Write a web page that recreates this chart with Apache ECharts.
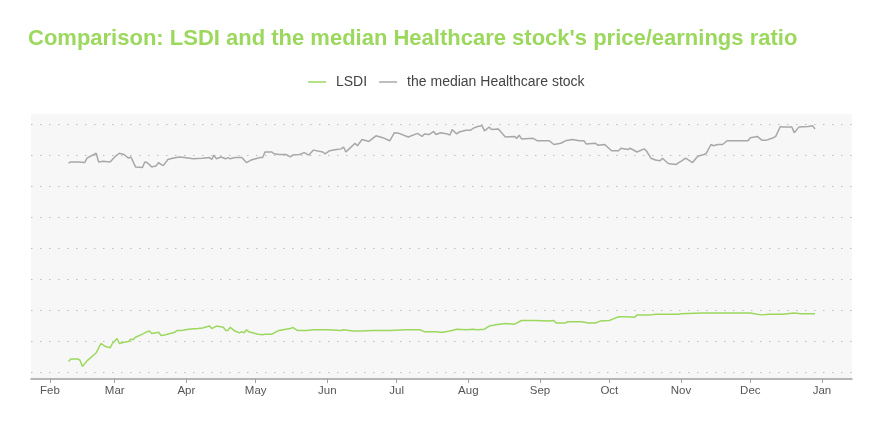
<!DOCTYPE html>
<html>
<head>
<meta charset="utf-8">
<script src="https://cdn.jsdelivr.net/npm/echarts@6/dist/echarts.min.js"></script>
<style>
html,body{margin:0;padding:0;background:#fff;}
#chart{width:880px;height:440px;}
</style>
</head>
<body>
<div id="chart"></div>
<script>
const titleText = "Comparison: LSDI and the median Healthcare stock's price/earnings ratio";
const seriesNames = ['LSDI', 'the median Healthcare stock'];
const monthLabels = ['Jan','Feb','Mar','Apr','May','Jun','Jul','Aug','Sep','Oct','Nov','Dec'];

const lsdiDates = ['2021-02-09','2021-02-10','2021-02-13','2021-02-14','2021-02-15','2021-02-17','2021-02-21','2021-02-23','2021-02-25','2021-02-27','2021-02-28','2021-03-02','2021-03-03','2021-03-05','2021-03-07','2021-03-08','2021-03-09','2021-03-10','2021-03-13','2021-03-15','2021-03-16','2021-03-17','2021-03-20','2021-03-21','2021-03-23','2021-03-25','2021-03-27','2021-03-28','2021-03-30','2021-04-02','2021-04-06','2021-04-08','2021-04-11','2021-04-12','2021-04-14','2021-04-17','2021-04-18','2021-04-19','2021-04-20','2021-04-22','2021-04-24','2021-04-25','2021-04-26','2021-04-27','2021-04-28','2021-05-02','2021-05-04','2021-05-05','2021-05-08','2021-05-11','2021-05-16','2021-05-17','2021-05-19','2021-05-23','2021-05-26','2021-05-30','2021-06-01','2021-06-07','2021-06-08','2021-06-12','2021-06-15','2021-06-21','2021-06-28','2021-07-05','2021-07-11','2021-07-13','2021-07-18','2021-07-20','2021-07-21','2021-07-24','2021-07-27','2021-07-31','2021-08-03','2021-08-05','2021-08-08','2021-08-10','2021-08-13','2021-08-17','2021-08-21','2021-08-24','2021-08-30','2021-09-05','2021-09-07','2021-09-08','2021-09-12','2021-09-13','2021-09-19','2021-09-22','2021-09-25','2021-09-27','2021-10-01','2021-10-03','2021-10-05','2021-10-08','2021-10-12','2021-10-13','2021-10-19','2021-10-21','2021-10-31','2021-11-01','2021-11-10','2021-11-24','2021-12-01','2021-12-04','2021-12-06','2021-12-09','2021-12-13','2021-12-15','2021-12-20','2021-12-23','2021-12-26','2021-12-29'];
const lsdiValues = [1.8,2.2,2.2,2.0,1.0,1.9,3.2,4.7,4.2,4.0,4.7,5.5,4.7,4.9,5.0,5.4,5.3,5.7,6.2,6.6,6.7,6.3,6.5,6.0,6.1,6.3,6.5,6.8,6.8,7.0,7.1,7.2,7.5,7.1,7.5,7.3,6.8,6.8,7.3,6.7,6.4,6.6,6.4,6.9,6.6,6.2,6.1,6.2,6.2,6.8,7.1,7.3,6.8,6.8,6.9,6.9,6.9,6.8,6.9,6.7,6.7,6.8,6.8,6.9,6.9,6.6,6.6,6.5,6.5,6.7,7.0,6.9,7.0,6.9,7.0,7.5,7.7,7.9,7.8,8.4,8.4,8.3,8.4,8.0,8.0,8.2,8.2,8.0,8.0,8.3,8.4,8.7,9.0,9.0,8.9,9.3,9.3,9.4,9.4,9.5,9.6,9.6,9.6,9.4,9.3,9.4,9.4,9.4,9.6,9.5,9.5,9.5];

const medianDates = ['2021-02-09','2021-02-10','2021-02-13','2021-02-16','2021-02-17','2021-02-21','2021-02-22','2021-02-24','2021-02-27','2021-03-01','2021-03-03','2021-03-05','2021-03-07','2021-03-08','2021-03-10','2021-03-13','2021-03-14','2021-03-15','2021-03-17','2021-03-19','2021-03-20','2021-03-21','2021-03-22','2021-03-24','2021-03-26','2021-03-29','2021-03-31','2021-04-04','2021-04-08','2021-04-11','2021-04-12','2021-04-13','2021-04-14','2021-04-16','2021-04-18','2021-04-19','2021-04-20','2021-04-22','2021-04-25','2021-04-27','2021-04-29','2021-05-03','2021-05-04','2021-05-05','2021-05-08','2021-05-09','2021-05-11','2021-05-14','2021-05-16','2021-05-17','2021-05-20','2021-05-22','2021-05-24','2021-05-26','2021-05-30','2021-05-31','2021-06-02','2021-06-05','2021-06-07','2021-06-08','2021-06-09','2021-06-11','2021-06-13','2021-06-14','2021-06-16','2021-06-19','2021-06-22','2021-06-25','2021-06-28','2021-06-30','2021-07-02','2021-07-06','2021-07-10','2021-07-12','2021-07-13','2021-07-15','2021-07-17','2021-07-18','2021-07-20','2021-07-23','2021-07-24','2021-07-25','2021-07-27','2021-07-28','2021-07-31','2021-08-02','2021-08-03','2021-08-05','2021-08-07','2021-08-08','2021-08-10','2021-08-11','2021-08-14','2021-08-17','2021-08-21','2021-08-22','2021-08-23','2021-08-24','2021-08-29','2021-08-31','2021-09-05','2021-09-07','2021-09-10','2021-09-12','2021-09-15','2021-09-18','2021-09-20','2021-09-21','2021-09-25','2021-09-26','2021-09-29','2021-10-02','2021-10-05','2021-10-06','2021-10-09','2021-10-10','2021-10-13','2021-10-16','2021-10-17','2021-10-19','2021-10-21','2021-10-23','2021-10-24','2021-10-26','2021-10-27','2021-10-30','2021-10-31','2021-11-01','2021-11-03','2021-11-06','2021-11-08','2021-11-09','2021-11-11','2021-11-12','2021-11-14','2021-11-15','2021-11-17','2021-11-19','2021-11-21','2021-11-24','2021-11-30','2021-12-01','2021-12-04','2021-12-06','2021-12-08','2021-12-11','2021-12-12','2021-12-14','2021-12-15','2021-12-19','2021-12-20','2021-12-22','2021-12-26','2021-12-28','2021-12-29'];
const medianValues = [33.7,33.9,33.9,33.8,34.5,35.3,33.9,34.0,33.9,34.7,35.3,35.1,34.5,34.7,33.1,33.0,33.9,33.8,33.1,33.3,33.8,33.5,33.3,34.3,34.5,34.7,34.6,34.4,34.5,34.6,34.3,35.0,34.4,34.7,34.4,34.6,34.4,34.6,34.6,33.8,34.2,34.6,34.6,35.5,35.5,35.2,35.1,35.1,34.7,35.0,35.1,35.4,35.0,35.8,35.5,35.2,35.7,35.9,36.0,36.3,35.5,36.2,36.9,36.5,37.5,37.2,38.1,37.8,37.3,38.6,38.5,37.9,38.5,38.0,38.4,38.3,38.8,38.3,38.6,38.4,38.2,39.1,38.4,38.7,39.0,39.0,39.3,39.6,39.7,38.9,39.5,39.1,39.2,37.9,38.0,37.7,38.2,37.6,37.7,37.3,37.3,36.7,36.9,37.3,37.5,37.3,37.3,36.8,36.9,36.6,36.7,35.7,35.7,36.1,35.9,36.1,35.5,36.0,35.7,34.5,34.2,34.1,34.5,33.8,33.6,33.5,33.8,34.0,34.5,33.8,34.7,34.9,35.1,35.3,36.7,36.5,36.7,36.7,37.3,37.3,37.3,37.8,38.0,37.4,37.4,37.8,38.0,39.6,39.5,39.5,38.6,39.5,39.6,39.7,39.2];

const lsdiData = lsdiDates.map((d, i) => [d, lsdiValues[i]]);
const medianData = medianDates.map((d, i) => [d, medianValues[i]]);

const green = '#9cd85e';
const gray = '#a8a8a8';
const font = "'Liberation Sans', Arial, sans-serif";

const chart = echarts.init(document.getElementById('chart'), null, {renderer: 'canvas'});
chart.setOption({
  animation: false,
  backgroundColor: '#ffffff',
  title: {
    text: titleText,
    left: 23,
    top: 23,
    textStyle: {color: green, fontSize: 22, fontWeight: 'bold', fontFamily: font}
  },
  legend: {
    top: 70,
    left: 303,
    icon: 'rect',
    itemWidth: 18,
    itemHeight: 1.5,
    itemGap: 12,
    textStyle: {color: '#444', fontSize: 14, fontFamily: font, padding: [0, 0, 0, 5]},
    data: seriesNames
  },
  grid: [
    {left: 31, right: 28, top: 124, bottom: 67.3, containLabel: false},
    {left: 31, right: 28, top: 114, bottom: 61, show: true, backgroundColor: '#f7f7f7', borderWidth: 0, containLabel: false}
  ],
  xAxis: [
    {
      type: 'time',
      gridIndex: 0,
      min: '2021-01-23T18:40:00',
      max: '2022-01-14T00:00:00',
      offset: 6.3,
      minInterval: 28 * 24 * 3600 * 1000,
      maxInterval: 31 * 24 * 3600 * 1000,
      axisLine: {show: true, onZero: false, lineStyle: {color: '#a0a0a0', width: 1.5}},
      axisTick: {show: true, inside: false, length: 4, lineStyle: {color: '#a0a0a0'}},
      splitLine: {show: false},
      axisLabel: {
        color: '#555',
        fontSize: 11.5,
        fontFamily: font,
        margin: 6,
        hideOverlap: false,
        showMinLabel: false,
        showMaxLabel: false,
        formatter: function (val) {
          const d = new Date(val);
          return d.getDate() === 1 ? monthLabels[d.getMonth()] : '';
        }
      }
    },
    {type: 'value', gridIndex: 1, show: false, min: 0, max: 1}
  ],
  yAxis: [
    {
      type: 'value',
      gridIndex: 0,
      min: 0,
      max: 40,
      interval: 5,
      axisLine: {show: false},
      axisTick: {show: false},
      axisLabel: {show: false},
      splitLine: {show: true, lineStyle: {color: '#bdbdbd', width: 1, type: [1.5, 7.5]}}
    },
    {type: 'value', gridIndex: 1, show: false, min: 0, max: 1, splitLine: {show: false}}
  ],
  series: [
    {
      name: seriesNames[0],
      type: 'line',
      xAxisIndex: 0, yAxisIndex: 0,
      data: lsdiData,
      symbol: 'none',
      showSymbol: false,
      color: green,
      lineStyle: {color: green, width: 1.5},
      z: 3
    },
    {
      name: seriesNames[1],
      type: 'line',
      xAxisIndex: 0, yAxisIndex: 0,
      data: medianData,
      symbol: 'none',
      showSymbol: false,
      color: gray,
      lineStyle: {color: gray, width: 1.5},
      z: 2
    }
  ]
});
</script>
</body>
</html>
